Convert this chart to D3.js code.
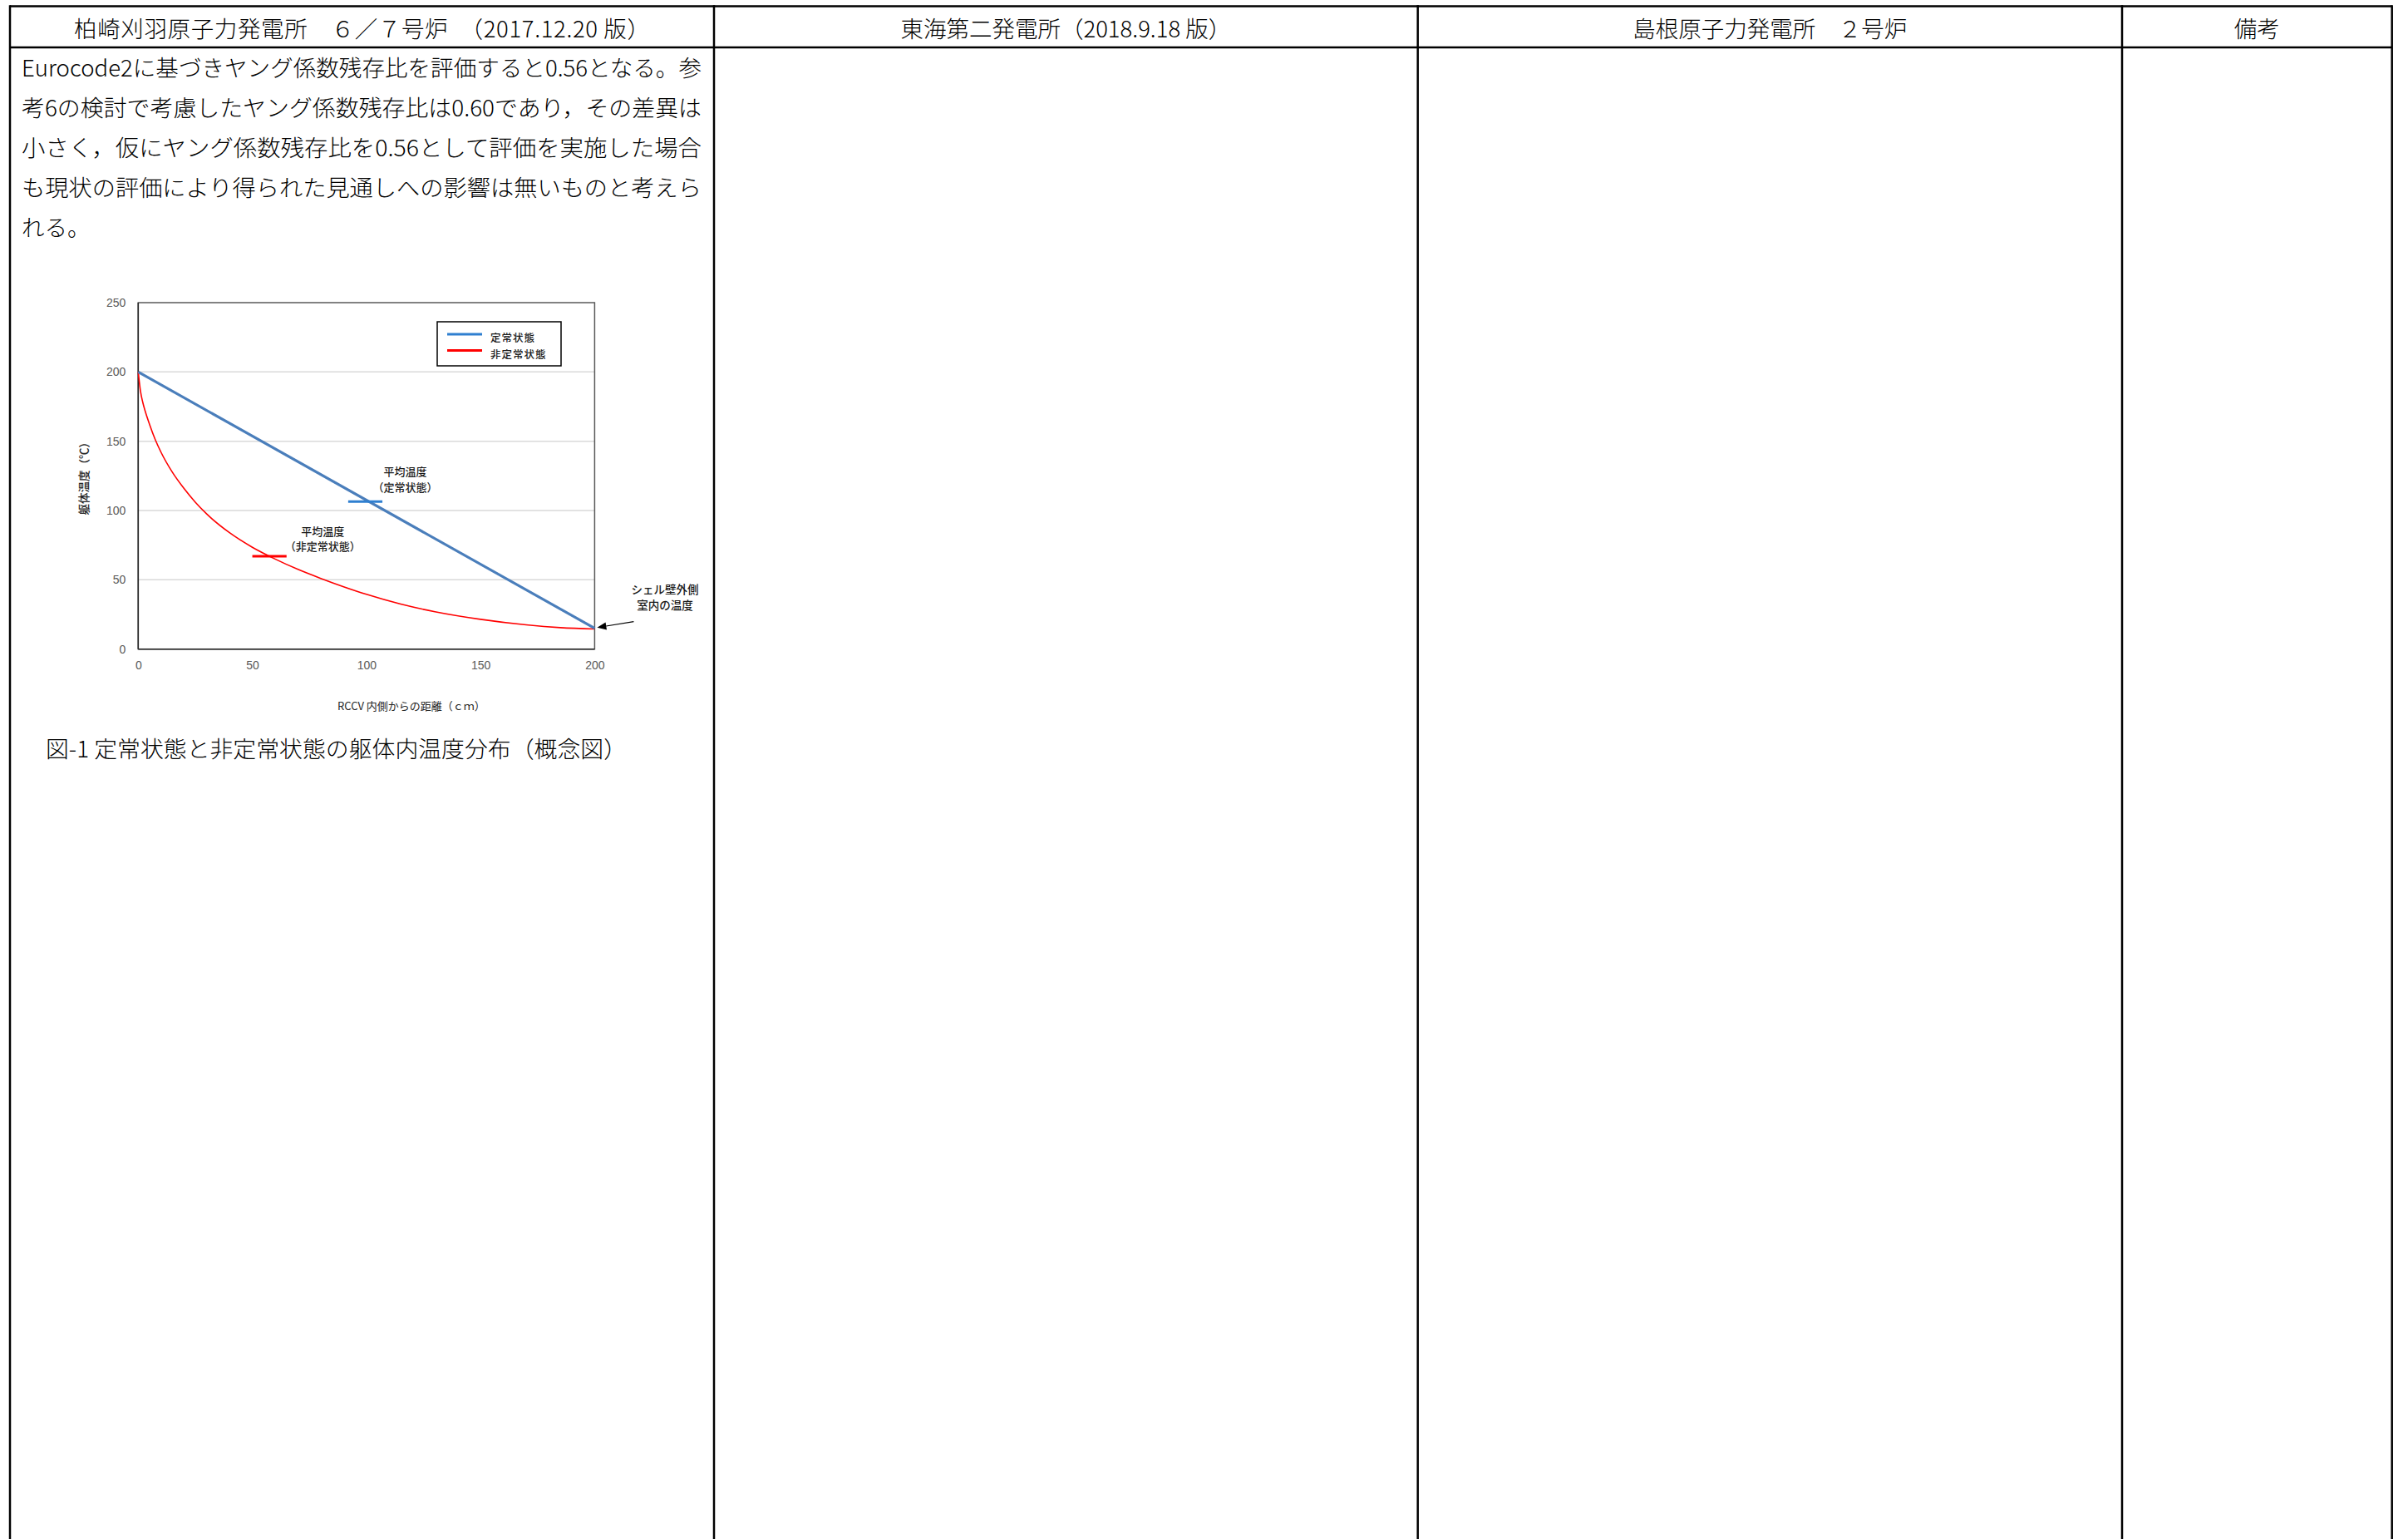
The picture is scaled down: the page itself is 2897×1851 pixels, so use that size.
<!DOCTYPE html>
<html>
<head>
<meta charset="utf-8">
<script src="https://cdn.jsdelivr.net/npm/d3@7"></script>
<style>
  html, body { margin: 0; padding: 0; background: #ffffff; }
  svg { display: block; }
</style>
</head>
<body>
<script>
// ---------------- DATA ----------------
const headers = [
  "柏崎刈羽原子力発電所　６／７号炉　（2017.12.20 版）",
  "東海第二発電所（2018.9.18 版）",
  "島根原子力発電所　２号炉",
  "備考"
];
const bodyLines = [
  "Eurocode2に基づきヤング係数残存比を評価すると0.56となる。参",
  "考6の検討で考慮したヤング係数残存比は0.60であり，その差異は",
  "小さく，仮にヤング係数残存比を0.56として評価を実施した場合",
  "も現状の評価により得られた見通しへの影響は無いものと考えら",
  "れる。"
];
const caption = "図-1 定常状態と非定常状態の躯体内温度分布（概念図）";

const xTicks = [0, 50, 100, 150, 200];
const yTicks = [0, 50, 100, 150, 200, 250];
const xTitle = "RCCV 内側からの距離（ｃｍ）";
const yTitle = "躯体温度（℃）";
const seriesNames = ["定常状態", "非定常状態"];

// steady state (blue): linear profile
const steadyX = [0, 200];
const steadyY = [200, 15];
// non-steady (red)
const transientX = [0, 1, 2, 3, 5, 7.5, 10, 15, 20, 25, 30, 40, 50, 60, 70, 80, 90, 100, 115, 130, 150, 170, 185, 200];
const transientY = [200, 186, 178, 172, 162, 151, 142, 127.5, 116, 106, 97.5, 84, 73.5, 65, 57.5, 51, 45, 39.5, 32.5, 27, 21.5, 17.5, 15.5, 14.5];

// average temperature marks
const meanSteady = { x0: 92, x1: 107, y: 106.5 };
const meanTransient = { x0: 50, x1: 65, y: 67 };
const annSteady = ["平均温度", "（定常状態）"];
const annTransient = ["平均温度", "（非定常状態）"];
const annOuter = ["シェル壁外側", "室内の温度"];
const arrowTarget = { x: 200, y: 15 };

// ---------------- LAYOUT ----------------
const W = 2897, H = 1851;
const colX = [12, 859, 1705.7, 2553, 2877.7];
const topY = 7.5, headY = 57;
const CJK = "'Noto Sans CJK JP', 'Noto Sans', sans-serif";

const svg = d3.select("body").append("svg")
  .attr("width", W).attr("height", H)
  .attr("viewBox", `0 0 ${W} ${H}`);

svg.append("rect").attr("width", W).attr("height", H).attr("fill", "#fff");

// table grid
const grid = svg.append("g").attr("stroke", "#000").attr("stroke-width", 2.5).attr("fill", "none");
grid.append("line").attr("x1", colX[0]).attr("x2", colX[4]).attr("y1", topY).attr("y2", topY);
grid.append("line").attr("x1", colX[0]).attr("x2", colX[4]).attr("y1", headY).attr("y2", headY);
colX.forEach(x => grid.append("line").attr("x1", x).attr("x2", x).attr("y1", topY - 1.25).attr("y2", H));

// headers
const headerLens = [693, null, null, null];
headers.forEach((h, i) => {
  const el = svg.append("text")
    .attr("x", (colX[i] + colX[i + 1]) / 2)
    .attr("y", (topY + headY) / 2 + 1)
    .attr("text-anchor", "middle")
    .attr("dominant-baseline", "central")
    .attr("font-family", CJK)
    .attr("font-size", 27.5)
    .attr("font-weight", 300)
    .attr("fill", "#000")
    .text(h);
  if (headerLens[i]) el.attr("textLength", headerLens[i]).attr("lengthAdjust", "spacing");
});

// body paragraph
bodyLines.forEach((t, i) => {
  const el = svg.append("text")
    .attr("x", 26)
    .attr("y", 80 + i * 48)
    .attr("dominant-baseline", "central")
    .attr("font-family", CJK)
    .attr("font-size", 27.5)
    .attr("font-weight", 300)
    .attr("fill", "#000")
    .text(t);
  if (i < bodyLines.length - 1) {
    el.attr("textLength", 818).attr("lengthAdjust", "spacingAndGlyphs");
  }
});

// caption
svg.append("text")
  .attr("x", 55).attr("y", 899)
  .attr("dominant-baseline", "central")
  .attr("font-family", CJK)
  .attr("font-size", 27.5)
  .attr("font-weight", 300)
  .attr("fill", "#000")
  .attr("textLength", 699).attr("lengthAdjust", "spacingAndGlyphs")
  .text(caption);

// ---------------- CHART ----------------
const x = d3.scaleLinear().domain([0, 200]).range([166.3, 715.4]);
const y = d3.scaleLinear().domain([0, 250]).range([780.7, 364]);
const chart = svg.append("g");

// gridlines
chart.append("g").selectAll("line").data(yTicks.filter(v => v > 0 && v < 250)).join("line")
  .attr("x1", x(0)).attr("x2", x(200))
  .attr("y1", d => y(d)).attr("y2", d => y(d))
  .attr("stroke", "#d9d9d9").attr("stroke-width", 1.5);

// plot border
chart.append("rect")
  .attr("x", x(0)).attr("y", y(250))
  .attr("width", x(200) - x(0)).attr("height", y(0) - y(250))
  .attr("fill", "none").attr("stroke", "#595959").attr("stroke-width", 1.5);
chart.append("line").attr("x1", x(0)).attr("x2", x(200)).attr("y1", y(0)).attr("y2", y(0))
  .attr("stroke", "#262626").attr("stroke-width", 1.5);
chart.append("line").attr("x1", x(0)).attr("x2", x(0)).attr("y1", y(0)).attr("y2", y(250))
  .attr("stroke", "#262626").attr("stroke-width", 1.5);

// axes (labels only)
const xAxis = d3.axisBottom(x).tickValues(xTicks).tickSize(0).tickPadding(14);
const yAxis = d3.axisLeft(y).tickValues(yTicks).tickSize(0).tickPadding(15);
const gx = chart.append("g").attr("transform", `translate(0,${y(0)})`).call(xAxis);
const gy = chart.append("g").attr("transform", `translate(${x(0)},0)`).call(yAxis);
[gx, gy].forEach(g => {
  g.select(".domain").remove();
  g.selectAll("text").attr("font-family", "'Liberation Sans', Arial, sans-serif")
    .attr("font-size", 14).attr("fill", "#595959");
});

// axis titles
chart.append("text")
  .attr("x", 495).attr("y", 848)
  .attr("text-anchor", "middle").attr("dominant-baseline", "central")
  .attr("font-family", CJK).attr("font-size", 13).attr("fill", "#262626")
  .text(xTitle);
chart.append("text")
  .attr("transform", `translate(100,${(y(0) + y(250)) / 2}) rotate(-90)`)
  .attr("text-anchor", "middle").attr("dominant-baseline", "central")
  .attr("font-family", CJK).attr("font-size", 13.5).attr("font-weight", 500).attr("fill", "#262626")
  .text(yTitle);

// series
const transientPts = d3.zip(transientX, transientY);
const steadyPts = d3.zip(steadyX, steadyY);
chart.append("path").datum(transientPts)
  .attr("d", d3.line().x(d => x(d[0])).y(d => y(d[1])).curve(d3.curveMonotoneX))
  .attr("fill", "none").attr("stroke", "#ff0000").attr("stroke-width", 1.6);
chart.append("path").datum(steadyPts)
  .attr("d", d3.line().x(d => x(d[0])).y(d => y(d[1])))
  .attr("fill", "none").attr("stroke", "#4a7ebb").attr("stroke-width", 3.2);

// mean marks
chart.append("line")
  .attr("x1", x(meanSteady.x0)).attr("x2", x(meanSteady.x1))
  .attr("y1", y(meanSteady.y)).attr("y2", y(meanSteady.y))
  .attr("stroke", "#2f7fd0").attr("stroke-width", 3);
chart.append("line")
  .attr("x1", x(meanTransient.x0)).attr("x2", x(meanTransient.x1))
  .attr("y1", y(meanTransient.y)).attr("y2", y(meanTransient.y))
  .attr("stroke", "#ff0000").attr("stroke-width", 3);

// annotations
function annot(lines, cx, yVals, size) {
  lines.forEach((t, i) => {
    chart.append("text")
      .attr("x", cx).attr("y", yVals[i])
      .attr("text-anchor", "middle").attr("dominant-baseline", "central")
      .attr("font-family", CJK).attr("font-size", size).attr("font-weight", 500)
      .attr("fill", "#1a1a1a")
      .text(t);
  });
}
annot(annSteady, x(117), [y(128.4), y(117.3)], 13);
annot(annTransient, x(80.8), [y(85.6), y(74.4)], 13);
annot(annOuter, 800, [708, 727], 13.5);

// arrow to outer-surface point
const tipX = x(arrowTarget.x) + 3, tipY = y(arrowTarget.y) - 1;
const tailX = tipX + 44, tailY = tipY - 7;
const ang = Math.atan2(tipY - tailY, tipX - tailX);
const aLen = 11, aW = 4.5;
const bx = tipX - aLen * Math.cos(ang), by = tipY - aLen * Math.sin(ang);
chart.append("line").attr("x1", tailX).attr("y1", tailY).attr("x2", bx).attr("y2", by)
  .attr("stroke", "#000").attr("stroke-width", 1.2);
chart.append("path")
  .attr("d", `M${tipX},${tipY} L${bx - aW * Math.sin(ang)},${by + aW * Math.cos(ang)} L${bx + aW * Math.sin(ang)},${by - aW * Math.cos(ang)} Z`)
  .attr("fill", "#000");

// legend
const lg = chart.append("g");
lg.append("rect").attr("x", 526).attr("y", 387).attr("width", 149).attr("height", 53)
  .attr("fill", "#fff").attr("stroke", "#000").attr("stroke-width", 1.5);
const legendColors = ["#2f7fd0", "#ff0000"];
seriesNames.forEach((n, i) => {
  const ly = 402 + i * 19.5;
  lg.append("line").attr("x1", 538).attr("x2", 580).attr("y1", ly).attr("y2", ly)
    .attr("stroke", legendColors[i]).attr("stroke-width", 2.8);
  lg.append("text").attr("x", 590).attr("y", ly + 3.5)
    .attr("dominant-baseline", "central")
    .attr("font-family", CJK).attr("font-size", 12.5).attr("font-weight", 500)
    .attr("letter-spacing", 1).attr("fill", "#1a1a1a")
    .text(n);
});
</script>
</body>
</html>
